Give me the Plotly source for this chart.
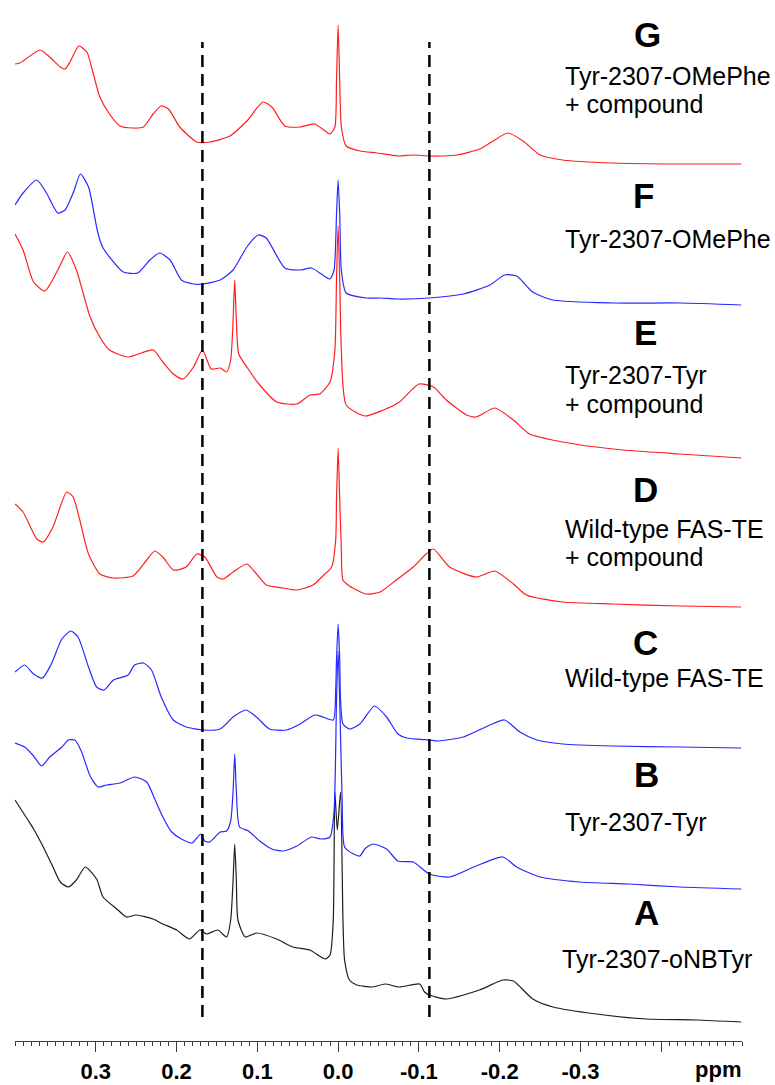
import plotly.graph_objects as go

# ---------------- data (ppm, intensity relative to each trace's baseline) ----------------
ppm_G = [0.400, 0.394, 0.369, 0.357, 0.344, 0.338, 0.332, 0.321, 0.311, 0.303, 0.295, 0.283, 0.270, 0.254,
         0.241, 0.229, 0.219, 0.210, 0.196, 0.175, 0.159, 0.134, 0.113, 0.093, 0.082, 0.066, 0.047, 0.029,
         0.016, 0.010, 0.004, 0.002, 0.000, -0.002, -0.004, -0.010, -0.027, -0.048, -0.074, -0.093, -0.113,
         -0.147, -0.175, -0.192, -0.210, -0.229, -0.250, -0.278, -0.340, -0.423, -0.499]
int_G = [100, 101, 114, 107, 97, 95, 102, 118, 112, 90, 67, 50, 38, 36,
         37, 50, 58, 55, 37, 22, 22, 28, 43, 62, 57, 38, 37, 40,
         33, 30, 37, 83, 139, 83, 37, 18, 13, 11, 8, 9, 8,
         9, 15, 23, 31, 23, 9, 4, 1, 0, 0]

ppm_F = [0.400, 0.390, 0.373, 0.361, 0.347, 0.338, 0.328, 0.319, 0.309, 0.299, 0.295, 0.291, 0.283, 0.266,
         0.248, 0.233, 0.221, 0.208, 0.194, 0.179, 0.167, 0.146, 0.130, 0.113, 0.099, 0.089, 0.066, 0.047,
         0.033, 0.019, 0.010, 0.005, 0.002, 0.000, -0.002, -0.004, -0.010, -0.035, -0.052, -0.074, -0.113,
         -0.155, -0.188, -0.206, -0.221, -0.241, -0.266, -0.340, -0.423, -0.499]
int_F = [100, 112, 125, 112, 92, 95, 112, 131, 118, 78, 65, 57, 48, 33,
         32, 45, 52, 45, 25, 21, 21, 25, 35, 58, 70, 67, 37, 35,
         37, 30, 26, 35, 90, 125, 90, 35, 12, 7, 7, 6, 7,
         11, 20, 30, 29, 13, 5, 2, 2, 0]

ppm_E = [0.400, 0.390, 0.377, 0.363, 0.347, 0.335, 0.324, 0.307, 0.295, 0.283, 0.260, 0.229, 0.217, 0.204,
         0.192, 0.179, 0.168, 0.157, 0.146, 0.138, 0.133, 0.130, 0.128, 0.126, 0.123, 0.113, 0.097, 0.076,
         0.051, 0.035, 0.023, 0.010, 0.004, 0.002, 0.000, -0.002, -0.004, -0.010, -0.033, -0.056, -0.076,
         -0.100, -0.118, -0.134, -0.159, -0.171, -0.194, -0.217, -0.237, -0.278, -0.340, -0.423, -0.499]
int_E = [224, 208, 176, 167, 188, 206, 188, 141, 121, 108, 101, 108, 96, 84,
         79, 91, 108, 89, 90, 86, 98, 138, 178, 138, 104, 91, 73, 56,
         54, 63, 64, 76, 108, 178, 232, 178, 108, 53, 42, 48, 56,
         74, 71, 58, 43, 41, 50, 38, 24, 16, 9, 4, 0]

ppm_D = [0.400, 0.390, 0.373, 0.365, 0.353, 0.336, 0.328, 0.309, 0.295, 0.278, 0.254, 0.237, 0.227, 0.217,
         0.204, 0.188, 0.175, 0.165, 0.150, 0.142, 0.130, 0.113, 0.101, 0.089, 0.068, 0.051, 0.031, 0.019,
         0.008, 0.003, 0.002, 0.000, -0.002, -0.004, -0.006, -0.014, -0.035, -0.052, -0.072, -0.093, -0.109,
         -0.118, -0.138, -0.171, -0.194, -0.217, -0.233, -0.278, -0.340, -0.423, -0.499]
int_D = [103, 95, 68, 65, 80, 115, 110, 53, 33, 29, 31, 47, 56, 50,
         37, 40, 53, 50, 30, 28, 35, 43, 33, 22, 19, 17, 22, 31,
         40, 67, 107, 159, 107, 57, 27, 21, 13, 15, 27, 40, 53,
         58, 40, 30, 36, 23, 12, 5, 3, 1, 0]

ppm_C = [0.400, 0.388, 0.377, 0.366, 0.355, 0.342, 0.331, 0.322, 0.309, 0.299, 0.290, 0.278, 0.260, 0.252,
         0.241, 0.231, 0.219, 0.204, 0.188, 0.167, 0.146, 0.130, 0.114, 0.101, 0.085, 0.064, 0.047, 0.029,
         0.019, 0.006, 0.003, 0.002, 0.000, -0.002, -0.003, -0.006, -0.014, -0.027, -0.045, -0.060, -0.074,
         -0.085, -0.113, -0.124, -0.155, -0.188, -0.206, -0.225, -0.246, -0.278, -0.340, -0.423, -0.499]
int_C = [76, 83, 74, 70, 84, 109, 117, 111, 81, 61, 58, 68, 73, 83,
         85, 78, 51, 28, 21, 18, 19, 31, 38, 31, 19, 18, 24, 33,
         31, 28, 58, 88, 124, 88, 48, 24, 19, 24, 42, 31, 14,
         10, 8, 7, 11, 23, 28, 16, 8, 4, 2, 1, 0]

ppm_B = [0.400, 0.388, 0.377, 0.367, 0.357, 0.342, 0.334, 0.326, 0.318, 0.307, 0.297, 0.287, 0.270, 0.252,
         0.237, 0.227, 0.217, 0.206, 0.194, 0.181, 0.170, 0.165, 0.159, 0.146, 0.138, 0.133, 0.130, 0.128,
         0.126, 0.122, 0.111, 0.097, 0.082, 0.068, 0.051, 0.033, 0.021, 0.010, 0.005, 0.002, 0.000, -0.002,
         -0.005, -0.008, -0.019, -0.027, -0.033, -0.043, -0.060, -0.074, -0.093, -0.113, -0.138, -0.171,
         -0.204, -0.221, -0.250, -0.299, -0.361, -0.423, -0.499]
int_B = [146, 142, 133, 123, 132, 142, 149, 149, 138, 113, 102, 104, 106, 112,
         107, 90, 72, 57, 50, 46, 55, 48, 47, 57, 58, 68, 98, 135,
         98, 62, 58, 48, 40, 38, 43, 52, 50, 52, 78, 188, 238, 188,
         88, 42, 35, 33, 40, 45, 40, 28, 27, 15, 12, 23,
         32, 22, 12, 7, 5, 2, 0]

ppm_A = [0.400, 0.384, 0.377, 0.365, 0.353, 0.344, 0.334, 0.324, 0.313, 0.299, 0.291, 0.274, 0.262, 0.250,
         0.229, 0.217, 0.200, 0.184, 0.171, 0.163, 0.149, 0.138, 0.133, 0.130, 0.128, 0.126, 0.124, 0.115,
         0.101, 0.076, 0.056, 0.035, 0.016, 0.010, 0.006, 0.004, 0.001, -0.003, -0.006, -0.008, -0.014,
         -0.023, -0.043, -0.058, -0.076, -0.101, -0.107, -0.113, -0.134, -0.175, -0.204, -0.217, -0.241,
         -0.266, -0.320, -0.382, -0.444, -0.499]
int_A = [222, 202, 193, 175, 155, 140, 135, 142, 155, 143, 125, 113, 105, 107,
         103, 98, 92, 83, 92, 88, 92, 85, 102, 142, 178, 142, 102, 85,
         89, 83, 75, 72, 63, 67, 102, 230, 192, 230, 102, 62, 42,
         37, 35, 38, 35, 38, 30, 27, 23, 32, 42, 41, 23,
         15, 8, 3, 2, 0]

# stacking offset of each trace (vertical position of its baseline)
offsets = {"G": 877, "F": 736, "E": 583, "D": 434, "C": 293, "B": 152, "A": 19}

labels = ["G", "F", "E", "D", "C", "B", "A"]
captions = {
    "G": ["Tyr-2307-OMePhe", "+ compound"],
    "F": ["Tyr-2307-OMePhe"],
    "E": ["Tyr-2307-Tyr", "+ compound"],
    "D": ["Wild-type FAS-TE", "+ compound"],
    "C": ["Wild-type FAS-TE"],
    "B": ["Tyr-2307-Tyr"],
    "A": ["Tyr-2307-oNBTyr"],
}

dashed_ppm = [0.168, -0.113]

tick_vals = [0.3, 0.2, 0.1, 0.0, -0.1, -0.2, -0.3, -0.4]
tick_text = ["0.3", "0.2", "0.1", "0.0", "-0.1", "-0.2", "-0.3", ""]

# ---------------- styling ----------------
RED = "rgb(255,30,30)"
BLUE = "rgb(40,40,255)"
BLACK = "rgb(30,30,30)"
colors = {"G": RED, "F": BLUE, "E": RED, "D": RED, "C": BLUE, "B": BLUE, "A": BLACK}
series = {"G": (ppm_G, int_G), "F": (ppm_F, int_F), "E": (ppm_E, int_E), "D": (ppm_D, int_D),
          "C": (ppm_C, int_C), "B": (ppm_B, int_B), "A": (ppm_A, int_A)}

fig = go.Figure()
for k in ["A", "B", "C", "D", "E", "F", "G"]:
    xs, vs = series[k]
    fig.add_trace(go.Scatter(x=xs, y=[offsets[k] + v for v in vs], mode="lines",
                             line=dict(color=colors[k], width=1.2, shape="spline", smoothing=0.6),
                             showlegend=False, hoverinfo="skip"))

for p in dashed_ppm:
    fig.add_shape(type="line", xref="x", yref="y", x0=p, x1=p, y0=24, y1=999,
                  line=dict(color="black", width=2.5, dash="12px,7px"))

# label positions (paper coordinates)
letter_pos = {"G": (0.870, 0.967), "F": (0.864, 0.812), "E": (0.867, 0.681), "D": (0.867, 0.530),
              "C": (0.867, 0.383), "B": (0.868, 0.256), "A": (0.868, 0.123)}
caption_pos = {"G": [(0.754, 0.927), (0.754, 0.900)], "F": [(0.754, 0.770)],
               "E": [(0.754, 0.640), (0.754, 0.612)], "D": [(0.754, 0.492), (0.754, 0.465)],
               "C": [(0.754, 0.349)], "B": [(0.754, 0.210)], "A": [(0.750, 0.079)]}

annotations = []
for k in labels:
    lx, ly = letter_pos[k]
    annotations.append(dict(x=lx, y=ly, xref="paper", yref="paper", text="<b>%s</b>" % k,
                            showarrow=False, xanchor="center", yanchor="middle",
                            font=dict(family="Liberation Sans, Arial", size=35, color="black")))
    for (cx, cy), txt in zip(caption_pos[k], captions[k]):
        annotations.append(dict(x=cx, y=cy, xref="paper", yref="paper", text=txt, showarrow=False,
                                xanchor="left", yanchor="middle",
                                font=dict(family="Liberation Sans, Arial", size=25, color="black")))

annotations.append(dict(x=0.967, y=-0.027, xref="paper", yref="paper", text="<b>ppm</b>",
                        showarrow=False, xanchor="center", yanchor="middle",
                        font=dict(family="Liberation Sans, Arial", size=22, color="black")))

fig.update_layout(
    width=775, height=1085,
    margin=dict(l=15, r=33, t=0, b=44),
    paper_bgcolor="white", plot_bgcolor="white",
    annotations=annotations,
    xaxis=dict(range=[0.4, -0.5], showgrid=False, zeroline=False, showline=True,
               linecolor="rgb(60,60,60)", linewidth=1.2,
               tickmode="array", tickvals=tick_vals, ticktext=tick_text,
               ticks="outside", ticklen=10, tickwidth=1.2, tickcolor="rgb(60,60,60)",
               ticklabelstandoff=0,
               tickfont=dict(family="Liberation Sans, Arial", size=22, color="black", weight="bold"),
               minor=dict(tickmode="linear", tick0=0, dtick=0.01, ticks="outside", ticklen=4,
                          tickwidth=1, tickcolor="rgb(60,60,60)", showgrid=False)),
    yaxis=dict(range=[0, 1041], visible=False, fixedrange=True),
)

fig.write_html("out.html")
